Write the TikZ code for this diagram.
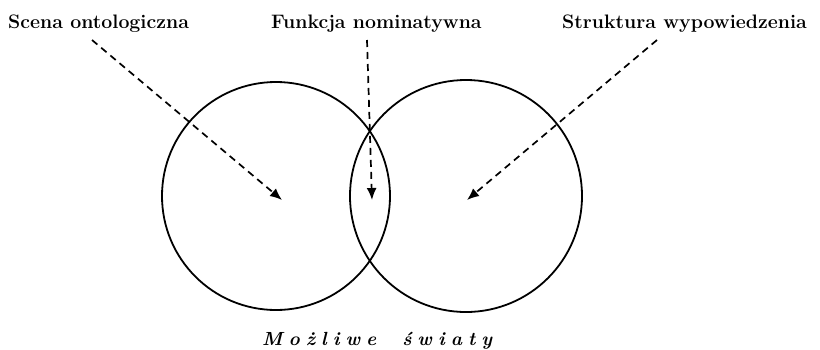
\documentclass[tikz,border=0pt]{standalone}
\usepackage{fontspec}
\usetikzlibrary{arrows.meta}
\newcommand\lsp{\hspace{6pt}}
\begin{document}
\begin{tikzpicture}[x=1pt,y=-1pt,
  lbl/.style={anchor=base west,inner sep=0pt,font=\fontsize{19.5}{22}\selectfont\bfseries},
  ring/.style={circle,draw,line width=1.8pt,inner sep=0pt},
  ptr/.style={dashed,dash pattern=on 7pt off 5pt,line width=1.7pt,-{Latex[length=12pt,width=10pt]}}]
\useasboundingbox (0,0) rectangle (820,349);
\node[ring,minimum size=228pt] (L) at (276,196) {};
\node[ring,minimum size=232pt] (R) at (466,196) {};
\node[lbl] (t1) at (8,28) {Scena ontologiczna};
\node[lbl] (t2) at (271,28) {Funkcja nominatywna};
\node[lbl] (t3) at (562,28) {Struktura wypowiedzenia};
\node[anchor=base west,inner sep=0pt,font=\fontsize{19}{22}\selectfont\bfseries\itshape] (w) at (262,345)
  {M\lsp o\lsp ż\lsp l\lsp i\lsp w\lsp e\hspace{26pt}ś\lsp w\lsp i\lsp a\lsp t\lsp y};
\coordinate (s1) at (92,40);
\coordinate (s2) at (367,40);
\coordinate (s3) at (657,40);
\coordinate (e1) at (282,200);
\coordinate (e2) at (372,200);
\coordinate (e3) at (467,200);
\draw[ptr] (s1) -- (e1);
\draw[ptr] (s2) -- (e2);
\draw[ptr] (s3) -- (e3);
\end{tikzpicture}
\end{document}
